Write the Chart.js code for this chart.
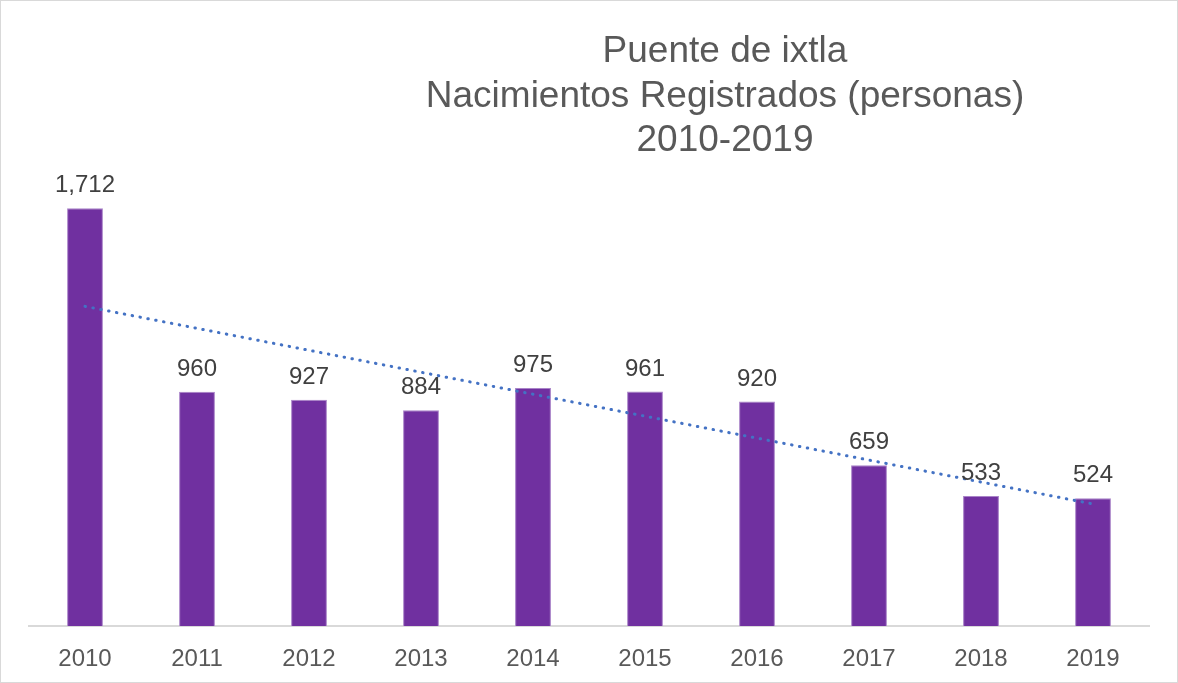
<!DOCTYPE html>
<html>
<head>
<meta charset="utf-8">
<script src="https://cdn.jsdelivr.net/npm/chart.js@4.4.0/dist/chart.umd.min.js"></script>
<style>
    html, body { margin: 0; padding: 0; background: #ffffff; }
    #wrap {
        position: absolute; left: 0; top: 0;
        width: 1178px; height: 683px;
        box-sizing: border-box;
        border: 1px solid #d9d9d9;
    }
    #chart { display: block; }
</style>
</head>
<body>
<div id="wrap"><canvas id="chart" width="1176" height="681"></canvas></div>
<script>
// Datos
const years = ['2010', '2011', '2012', '2013', '2014', '2015', '2016', '2017', '2018', '2019'];
const births = [1712, 960, 927, 884, 975, 961, 920, 659, 533, 524];
// Línea de tendencia: extremos
const trendValues = [1310, null, null, null, null, null, null, null, null, 500];
const titleLines = ['Puente de ixtla', 'Nacimientos Registrados (personas)', '2010-2019'];

Chart.defaults.font.family = "'Liberation Sans', Arial, sans-serif";

// Título desplazado hacia la derecha, como en el original
const titlePlugin = {
    id: 'offsetTitle',
    afterDraw(chart) {
        const ctx = chart.ctx;
        ctx.save();
        ctx.fillStyle = '#595959';
        ctx.font = "37px 'Liberation Sans', Arial, sans-serif";
        ctx.textAlign = 'center';
        ctx.textBaseline = 'alphabetic';
        titleLines.forEach((line, i) => {
            ctx.fillText(line, 724, 61 + i * 44.5);
        });
        ctx.restore();
    }
};

// Etiquetas de valor sobre las barras
const valueLabels = {
    id: 'valueLabels',
    afterDatasetsDraw(chart) {
        const ctx = chart.ctx;
        const meta = chart.getDatasetMeta(0);
        ctx.save();
        ctx.fillStyle = '#404040';
        ctx.font = "24px 'Liberation Sans', Arial, sans-serif";
        ctx.textAlign = 'center';
        ctx.textBaseline = 'alphabetic';
        meta.data.forEach((bar, i) => {
            ctx.fillText(births[i].toLocaleString('en-US'), bar.x, bar.y - 16);
        });
        ctx.restore();
    }
};

new Chart(document.getElementById('chart'), {
    type: 'bar',
    data: {
        labels: years,
        datasets: [{
            type: 'bar',
            data: births,
            backgroundColor: '#7030a0',
            borderColor: '#a983c8',
            borderWidth: 1,
            categoryPercentage: 1,
            barPercentage: 0.32,
            order: 2
        }, {
            type: 'line',
            data: trendValues,
            spanGaps: true,
            borderColor: '#4472c4',
            borderWidth: 3,
            borderDash: [0.5, 7.5],
            borderCapStyle: 'round',
            pointRadius: 0,
            fill: false,
            order: 1
        }]
    },
    plugins: [titlePlugin, valueLabels],
    options: {
        responsive: false,
        animation: false,
        layout: {
            padding: { left: 28, right: 28, top: 137, bottom: 0 }
        },
        plugins: {
            legend: { display: false },
            title: { display: false },
            tooltip: { enabled: false }
        },
        scales: {
            y: {
                display: false,
                min: 0,
                max: 2000
            },
            x: {
                grid: {
                    display: true,
                    drawOnChartArea: false,
                    drawTicks: false
                },
                border: { display: true, color: '#d9d9d9', width: 2 },
                ticks: {
                    color: '#595959',
                    font: { size: 24 },
                    padding: 19
                },
                afterFit(scale) { scale.height = 56; }
            }
        }
    }
});
</script>
</body>
</html>
